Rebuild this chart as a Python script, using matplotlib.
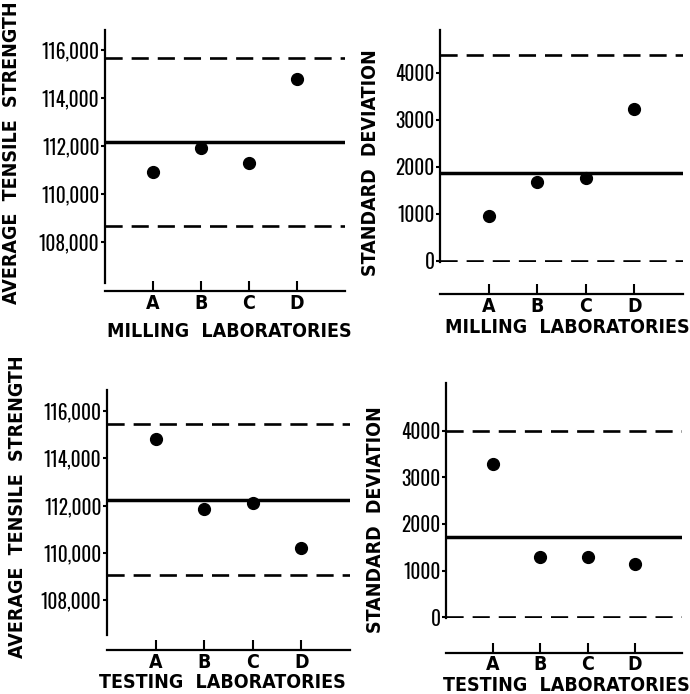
import matplotlib
matplotlib.use("Agg")
import matplotlib.pyplot as plt

plt.rcParams['font.family'] = ['DejaVu Sans']
plt.rcParams['font.stretch'] = 'condensed'

# Laboratory codes along the x axis
labs = ['A', 'B', 'C', 'D']

# Milling laboratories: averages and standard deviations
mill_avg = [110900, 111900, 111300, 114800]
mill_avg_limits = [108650, 112150, 115650]   # lower, centre, upper
mill_sd = [960, 1680, 1770, 3230]
mill_sd_limits = [0, 1870, 4380]

# Testing laboratories
test_avg = [114800, 111850, 112100, 110200]
test_avg_limits = [109050, 112250, 115450]
test_sd = [3300, 1300, 1300, 1140]
test_sd_limits = [0, 1720, 4000]

avg_ticks = [108000, 110000, 112000, 114000, 116000]
sd_ticks = [0, 1000, 2000, 3000, 4000]

W, H = 690, 694
fig = plt.figure(figsize=(W / 100, H / 100), dpi=100)


def px_axes(left, top, right, bottom):
    return fig.add_axes([left / W, 1 - bottom / H, (right - left) / W, (bottom - top) / H])


def control_panel(ax, values, limits, ticks, ylim, ylabel, xlabel,
                  drop, ylab_xy, xlab_xy, comma=True):
    x = range(1, len(values) + 1)
    lo, mid, hi = limits
    ax.axhline(hi, color='black', lw=1.9, dashes=(6.5, 3.4))
    ax.axhline(lo, color='black', lw=1.9, dashes=(6.5, 3.4))
    ax.axhline(mid, color='black', lw=2.5)
    ax.plot(x, values, 'o', color='black', ms=8.5, zorder=5)

    ax.set_xlim(0, 5)
    ax.set_ylim(*ylim)
    ax.set_xticks(list(x))
    ax.set_xticklabels(labs)
    ax.set_yticks(ticks)
    if comma:
        ax.set_yticklabels([f"{t:,}" for t in ticks])
    else:
        ax.set_yticklabels([str(t) for t in ticks])

    for s in ('top', 'right'):
        ax.spines[s].set_visible(False)
    ax.spines['left'].set_linewidth(1.6)
    ax.spines['bottom'].set_linewidth(1.6)
    ax.spines['bottom'].set_position(('outward', drop))

    ax.tick_params(axis='x', direction='in', length=7, width=1.5,
                   labelsize=14, pad=2)
    ax.tick_params(axis='y', direction='out', length=3, width=1.5,
                   labelsize=14, pad=1, labelfontfamily='Oswald')
    for t in ax.get_xticklabels():
        t.set_fontweight('bold')

    ax.set_ylabel(ylabel, fontsize=14, fontweight='bold')
    ax.set_xlabel(xlabel, fontsize=14, fontweight='bold')
    ax.yaxis.set_label_coords(*ylab_xy)
    ax.xaxis.set_label_coords(*xlab_xy)


ax1 = px_axes(105, 30, 345, 283)
control_panel(ax1, mill_avg, mill_avg_limits, avg_ticks, (106270, 116840),
              'AVERAGE  TENSILE  STRENGTH', 'MILLING  LABORATORIES',
              6, (-0.35, 0.514), (0.52, -0.154))

ax2 = px_axes(440, 30, 683, 262)
control_panel(ax2, mill_sd, mill_sd_limits, sd_ticks, (-30, 4915),
              'STANDARD  DEVIATION', 'MILLING  LABORATORIES',
              23, (-0.247, 0.427), (0.523, -0.241), comma=False)

ax3 = px_axes(107, 390, 350, 635)
control_panel(ax3, test_avg, test_avg_limits, avg_ticks, (106520, 116890),
              'AVERAGE  TENSILE  STRENGTH', 'TESTING  LABORATORIES',
              11, (-0.33, 0.522), (0.473, -0.155))

ax4 = px_axes(446, 383, 682, 618)
control_panel(ax4, test_sd, test_sd_limits, sd_ticks, (-20, 5030),
              'STANDARD  DEVIATION', 'TESTING  LABORATORIES',
              25, (-0.258, 0.417), (0.508, -0.247), comma=False)

fig.savefig('out.png', dpi=100, facecolor='white')
